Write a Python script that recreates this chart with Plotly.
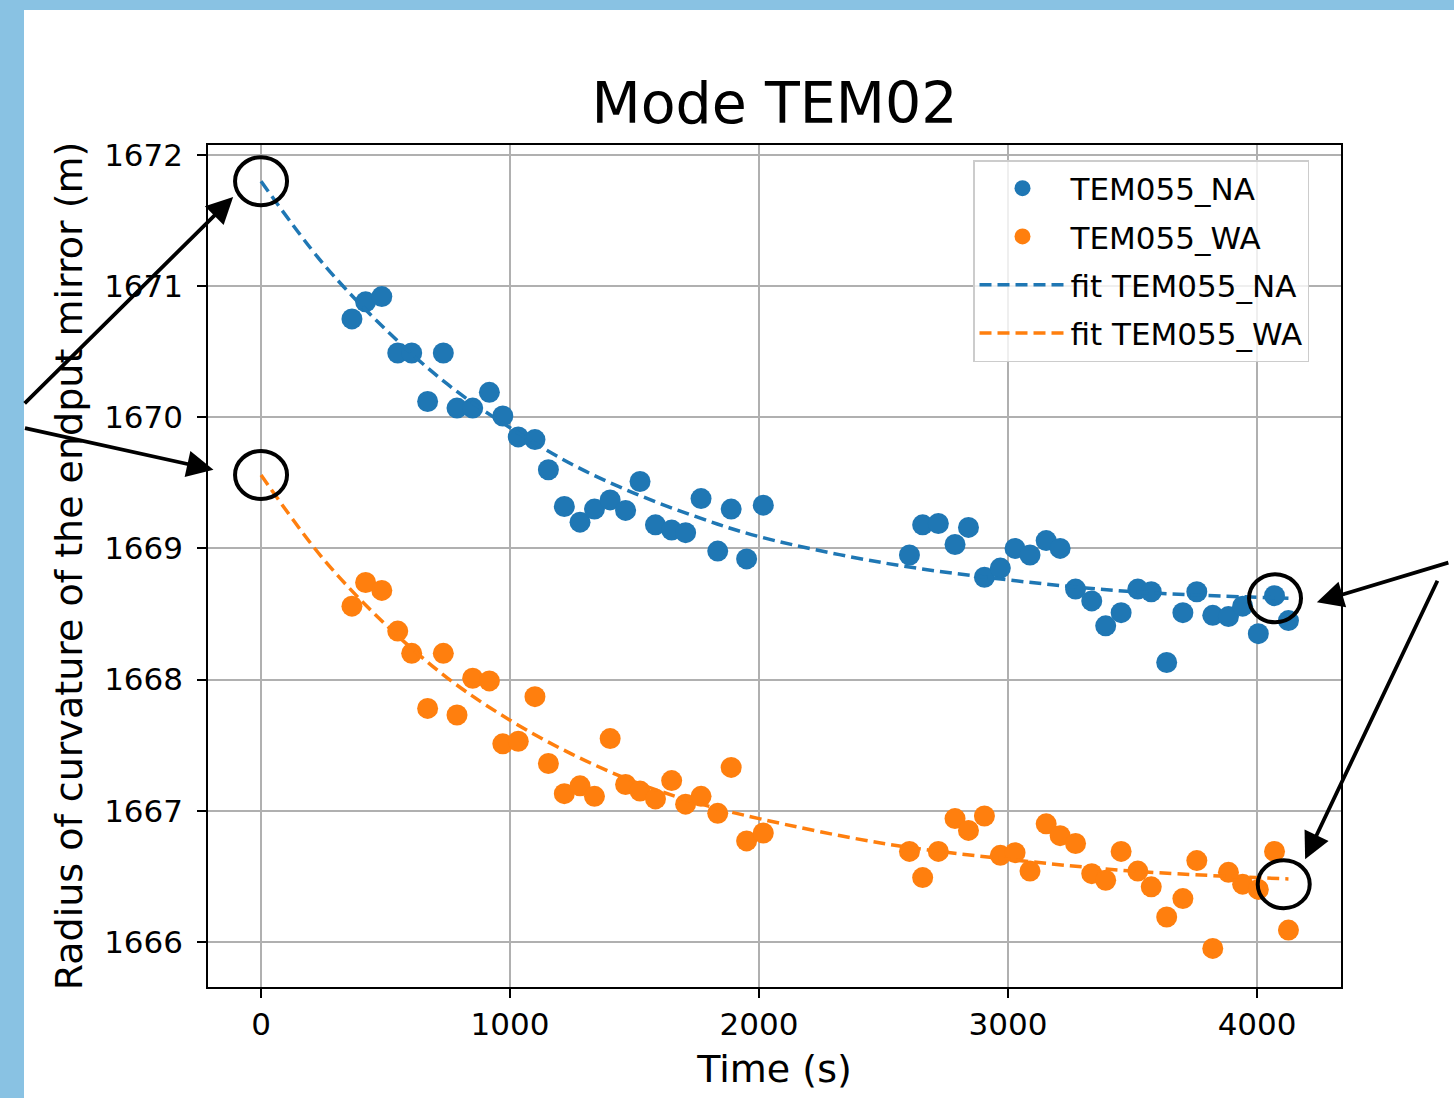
import plotly.graph_objects as go

# Measurement times (s), shared by both series
time_s = [365, 420, 485, 549, 605, 669, 732, 787, 850, 917, 971, 1033, 1100, 1154,
          1218, 1281, 1339, 1402, 1464, 1522, 1584, 1649, 1705, 1767, 1834, 1888,
          1950, 2017, 2604, 2657, 2720, 2787, 2841, 2905, 2969, 3028, 3088, 3153,
          3209, 3271, 3336, 3392, 3454, 3521, 3575, 3637, 3702, 3758, 3822, 3885,
          3942, 4005, 4070, 4126]

# Radius of curvature (m) without absorption
roc_na = [1670.75, 1670.88, 1670.92, 1670.49, 1670.49, 1670.12, 1670.49, 1670.07,
          1670.07, 1670.19, 1670.01, 1669.85, 1669.83, 1669.60, 1669.32, 1669.20,
          1669.30, 1669.37, 1669.29, 1669.51, 1669.18, 1669.14, 1669.12, 1669.38,
          1668.98, 1669.30, 1668.92, 1669.33, 1668.95, 1669.18, 1669.19, 1669.03,
          1669.16, 1668.78, 1668.85, 1669.00, 1668.95, 1669.06, 1669.00, 1668.69,
          1668.60, 1668.41, 1668.51, 1668.69, 1668.67, 1668.13, 1668.51, 1668.67,
          1668.49, 1668.48, 1668.56, 1668.35, 1668.64, 1668.45]

# Radius of curvature (m) with absorption
roc_wa = [1668.56, 1668.74, 1668.68, 1668.37, 1668.20, 1667.78, 1668.20, 1667.73,
          1668.01, 1667.99, 1667.51, 1667.53, 1667.87, 1667.36, 1667.13, 1667.19,
          1667.11, 1667.55, 1667.20, 1667.15, 1667.09, 1667.23, 1667.05, 1667.11,
          1666.98, 1667.33, 1666.77, 1666.83, 1666.69, 1666.49, 1666.69, 1666.94,
          1666.85, 1666.96, 1666.66, 1666.68, 1666.54, 1666.90, 1666.81, 1666.75,
          1666.52, 1666.47, 1666.69, 1666.54, 1666.42, 1666.19, 1666.33, 1666.62,
          1665.95, 1666.53, 1666.44, 1666.40, 1666.69, 1666.09]

# Fitted curves sampled along the time axis
fit_time = [0, 250, 500, 750, 1000, 1250, 1500, 1750, 2000, 2500, 3000, 3500, 4126]
fit_na = [1671.80, 1671.17, 1670.67, 1670.25, 1669.92, 1669.64, 1669.42, 1669.24,
          1669.09, 1668.89, 1668.76, 1668.67, 1668.62]
fit_wa = [1669.56, 1668.92, 1668.42, 1668.01, 1667.69, 1667.43, 1667.22, 1667.06,
          1666.94, 1666.75, 1666.63, 1666.54, 1666.48]

x_ticks = [0, 1000, 2000, 3000, 4000]
y_ticks = [1666, 1667, 1668, 1669, 1670, 1671, 1672]

BLUE = "#1f77b4"
ORANGE = "#ff7f0e"
FONT = "DejaVu Sans"

fig = go.Figure()
fig.add_trace(go.Scatter(x=time_s, y=roc_na, mode="markers", name="TEM055_NA",
                         marker=dict(color=BLUE, size=21), legendgroup="a"))
fig.add_trace(go.Scatter(x=time_s, y=roc_wa, mode="markers", name="TEM055_WA",
                         marker=dict(color=ORANGE, size=21), legendgroup="b"))
fig.add_trace(go.Scatter(x=fit_time, y=fit_na, mode="lines", name="fit TEM055_NA",
                         line=dict(color=BLUE, width=3.5, dash="12px,6px", shape="spline"),
                         legendgroup="c"))
fig.add_trace(go.Scatter(x=fit_time, y=fit_wa, mode="lines", name="fit TEM055_WA",
                         line=dict(color=ORANGE, width=3.5, dash="12px,6px", shape="spline"),
                         legendgroup="d"))

# Circles marking the start and end of each fit
circles = [(fit_time[0], fit_na[0]), (fit_time[0], fit_wa[0]),
           (4072, 1668.62), (4107, 1666.44)]
shapes = []
for cx, cy in circles:
    shapes.append(dict(type="circle", xref="x", yref="y", xsizemode="pixel",
                       ysizemode="pixel", xanchor=cx, yanchor=cy,
                       x0=-26, x1=26, y0=-24, y1=24,
                       line=dict(color="black", width=4)))

# Light-blue frame along the left and top edges of the page
W, H = 1454, 1098
L, R, T, B = 208, 113, 145, 111
pw, ph = W - L - R, H - T - B
def px_x(p):
    return (p - L) / pw
def px_y(p):
    return (H - B - p) / ph
frame = "#89c2e3"
shapes.append(dict(type="rect", xref="paper", yref="paper", x0=px_x(0), x1=px_x(24),
                   y0=px_y(H), y1=px_y(0), fillcolor=frame, line=dict(width=0)))
shapes.append(dict(type="rect", xref="paper", yref="paper", x0=px_x(0), x1=px_x(W),
                   y0=px_y(10), y1=px_y(0), fillcolor=frame, line=dict(width=0)))

# Arrows pointing at the circled fit values
arrows = [(-112, 1671.68, -210, 208), (-191, 1669.60, -190, -42),
          (4240, 1668.59, 133, -40), (4193, 1666.63, 133, -280)]
annotations = []
for ax_, ay_, dx, dy in arrows:
    annotations.append(dict(x=ax_, y=ay_, xref="x", yref="y", ax=dx, ay=dy,
                            axref="pixel", ayref="pixel", text="", showarrow=True,
                            arrowhead=2, arrowsize=1.4, arrowwidth=3.8,
                            arrowcolor="black"))

axis_common = dict(showline=True, mirror=True, linecolor="black", linewidth=1.5,
                   ticks="outside", ticklen=9, tickwidth=1.5, tickcolor="black",
                   showgrid=True, gridcolor="#b0b0b0", gridwidth=1.5, zeroline=False,
                   tickfont=dict(family=FONT, size=31, color="black"))

fig.update_layout(
    width=W, height=H,
    margin=dict(l=L, r=R, t=T, b=B, autoexpand=False),
    paper_bgcolor="white", plot_bgcolor="white",
    font=dict(family=FONT, color="black"),
    title=dict(text="Mode TEM02", x=0.5, xref="paper", xanchor="center",
               y=1 - 103 / H, yref="container", yanchor="middle",
               font=dict(family=FONT, size=57, color="black")),
    xaxis=dict(range=[-213, 4337], tickvals=x_ticks, ticklabelstandoff=0,
               title=dict(text="Time (s)", standoff=14,
                          font=dict(family=FONT, size=38, color="black")),
               **axis_common),
    yaxis=dict(range=[1665.656, 1672.076], tickvals=y_ticks, ticklabelstandoff=8,
               title=dict(text="Radius of curvature of the endput mirror (m)", standoff=10,
                          font=dict(family=FONT, size=38, color="black")),
               **axis_common),
    legend=dict(x=px_x(973), y=px_y(160), xanchor="left", yanchor="top",
                bgcolor="rgba(255,255,255,0.8)", bordercolor="#cccccc", borderwidth=1.5,
                font=dict(family=FONT, size=31, color="black"),
                traceorder="grouped", tracegroupgap=5, itemwidth=86),
    shapes=shapes,
    annotations=annotations,
    showlegend=True,
)

fig.write_html("out.html")
